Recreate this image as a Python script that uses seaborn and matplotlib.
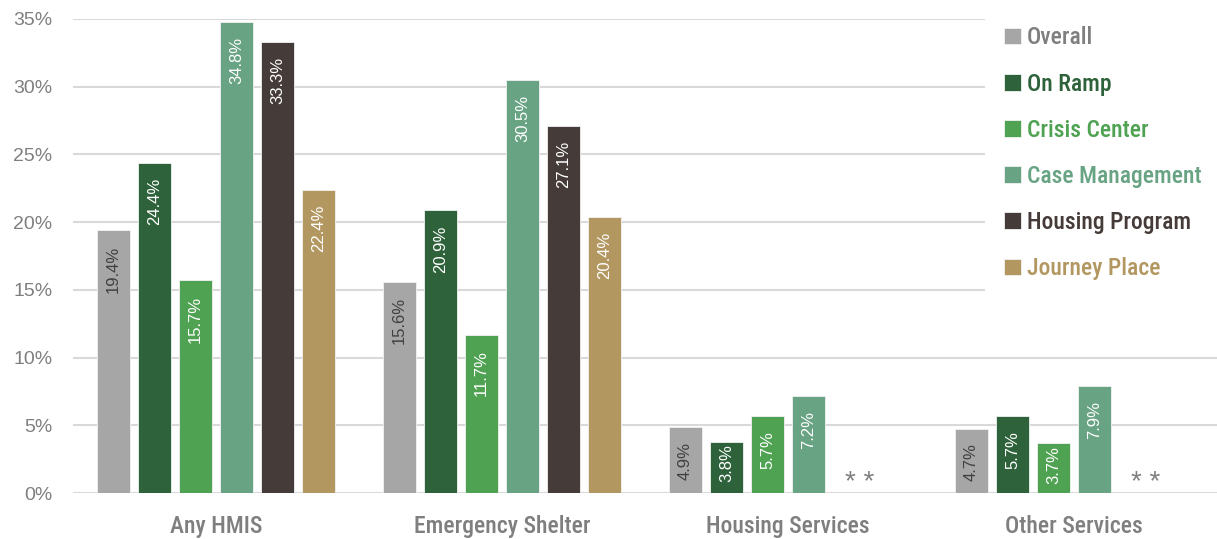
import matplotlib
matplotlib.use("Agg")
import matplotlib.pyplot as plt
import pandas as pd
import seaborn as sns
from matplotlib import font_manager

categories = ["Any HMIS", "Emergency Shelter", "Housing Services", "Other Services"]
series = ["Overall", "On Ramp", "Crisis Center", "Case Management", "Housing Program", "Journey Place"]
colors = ["#A6A6A6", "#2E623A", "#4EA252", "#68A383", "#453B38", "#B39760"]
label_colors = ["#404040", "white", "white", "white", "white", "white"]

overall = [19.4, 15.6, 4.9, 4.7]
on_ramp = [24.4, 20.9, 3.8, 5.7]
crisis_center = [15.7, 11.7, 5.7, 3.7]
case_management = [34.8, 30.5, 7.2, 7.9]
housing_program = [33.3, 27.1, None, None]
journey_place = [22.4, 20.4, None, None]

yticks = [0, 5, 10, 15, 20, 25, 30, 35]


def pick_font(names):
    have = {f.name for f in font_manager.fontManager.ttflist}
    for n in names:
        if n in have:
            return n
    return "DejaVu Sans"


def main():
    sns.set_theme(style="white")
    narrow = pick_font(["Liberation Sans Narrow", "Roboto Condensed", "Open Sans Condensed", "Liberation Sans"])
    regular = pick_font(["Liberation Sans", "DejaVu Sans"])
    plt.rcParams["font.family"] = [regular, "DejaVu Sans"]

    values = [overall, on_ramp, crisis_center, case_management, housing_program, journey_place]
    rows = []
    for s, vals in zip(series, values):
        for c, v in zip(categories, vals):
            rows.append({"category": c, "series": s, "value": v})
    df = pd.DataFrame(rows)
    df["missing"] = df["value"].isna()
    df["value"] = df["value"].fillna(0)

    fig, ax = plt.subplots(figsize=(12.17, 5.39), dpi=100)
    fig.subplots_adjust(left=0.06, right=1.0, bottom=0.085, top=0.965)

    sns.barplot(
        data=df, x="category", y="value", hue="series",
        order=categories, hue_order=series, palette=colors, saturation=1,
        width=0.86, gap=0.2, ax=ax, legend=True,
        edgecolor="#F2F2F2", linewidth=0.6,
    )

    ax.set_ylim(0, 35)
    ax.set_xlim(-0.5, 3.5)

    value_labels = []
    for s_idx, container in enumerate(ax.containers):
        sub = df[df["series"] == series[s_idx]].set_index("category").loc[categories]
        for patch, (cat, row) in zip(container.patches, sub.iterrows()):
            xc = patch.get_x() + patch.get_width() / 2
            if row["missing"]:
                if series[s_idx] == "Housing Program":
                    ax.annotate("* *", (xc, 0), xytext=(7, -2), textcoords="offset points",
                                ha="center", va="bottom", fontsize=20, color="#7F7F7F")
                continue
            t = ax.annotate(f"{row['value']:.1f}%", (xc, row["value"]), xytext=(0, -11),
                            textcoords="offset points", rotation=90, ha="center", va="top",
                            fontsize=12, color=label_colors[s_idx])
            value_labels.append(t)

    # short bars: pull the label up so it stays inside the bar
    fig.canvas.draw()
    renderer = fig.canvas.get_renderer()
    base_px = ax.transData.transform((0, 0))[1]
    for t in value_labels:
        bb = t.get_window_extent(renderer)
        low = base_px + 12
        if bb.y0 < low:
            shift_pt = (low - bb.y0) * 72 / fig.dpi
            ox, oy = t.xyann
            t.xyann = (ox, min(-2, oy + shift_pt))

    ax.set_yticks(yticks)
    ax.set_yticklabels([f"{t}%" for t in yticks])
    ax.yaxis.grid(True, color="#D9D9D9", linewidth=1.5)
    ax.set_axisbelow(True)
    for sp in ax.spines.values():
        sp.set_visible(False)
    ax.tick_params(axis="y", length=0, pad=15, labelsize=14, labelcolor="#7F7F7F")
    ax.tick_params(axis="x", length=0, pad=16, labelsize=17, labelcolor="#7F7F7F")
    for t in ax.get_xticklabels():
        t.set_fontfamily(narrow)
        t.set_fontweight("medium")
    ax.set_xlabel("")
    ax.set_ylabel("")

    handles, labels = ax.get_legend_handles_labels()
    leg = ax.legend(
        handles, labels, loc="upper left", bbox_to_anchor=(0.8, 1.008),
        bbox_transform=fig.transFigure, frameon=True, facecolor="white",
        edgecolor="none", framealpha=1, fancybox=False,
        prop={"family": narrow, "size": 17, "weight": "medium"},
        handlelength=0.7, handleheight=0.7,
        handletextpad=0.25, labelspacing=0.98, borderpad=0.8,
    )
    for txt, c in zip(leg.get_texts(), colors):
        txt.set_color("#7F7F7F" if c == "#A6A6A6" else c)

    fig.savefig("out.png", dpi=100)
    plt.close(fig)


if __name__ == "__main__":
    main()
